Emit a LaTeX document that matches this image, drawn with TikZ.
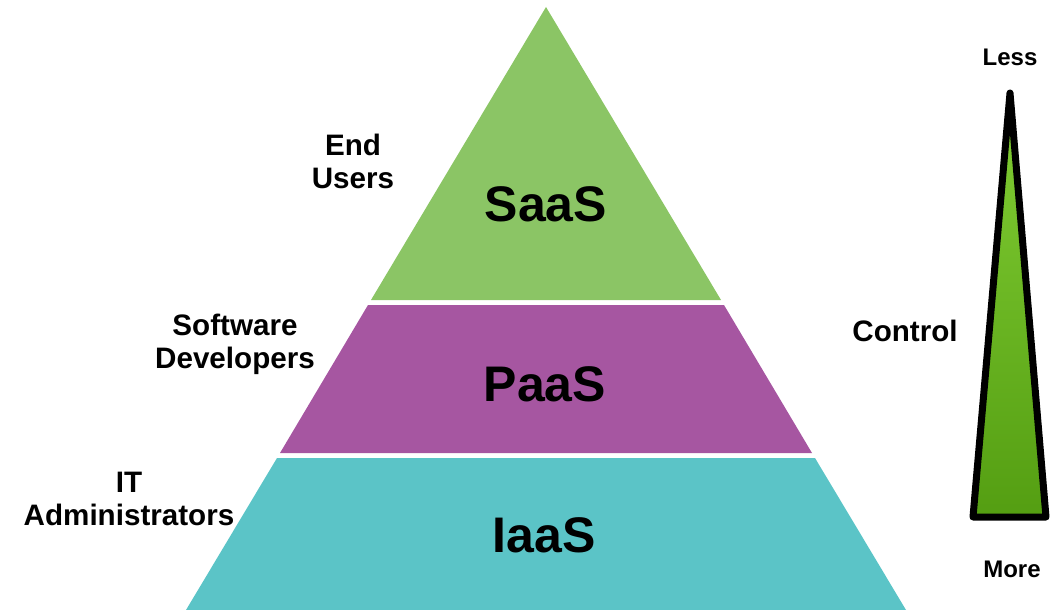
\documentclass[tikz,border=0pt]{standalone}
\usepackage{fontspec}
\setmainfont{Liberation Sans}
\usetikzlibrary{positioning}
\usetikzlibrary{calc}

\definecolor{saasgreen}{RGB}{139,197,101}
\definecolor{paaspurple}{RGB}{166,86,161}
\definecolor{iaasteal}{RGB}{91,196,199}
\definecolor{barlight}{RGB}{130,206,52}
\definecolor{bardark}{RGB}{84,158,18}

\begin{document}
\begin{tikzpicture}[x=1pt, y=-1pt,
    layer/.style={draw=none},
    tier/.style={font=\fontsize{50}{56}\selectfont\bfseries, inner sep=0pt},
    who/.style={font=\fontsize{29.6}{33}\selectfont\bfseries, align=center, inner sep=0pt},
    ends/.style={font=\fontsize{24}{28}\selectfont\bfseries, inner sep=0pt}]
  \useasboundingbox (0,0) rectangle (1053,610);

  % pyramid
  \fill[layer, saasgreen]  (546,7) -- (721,300) -- (371,300) -- cycle;
  \fill[layer, paaspurple] (368,305) -- (724,305) -- (812,453) -- (280,453) -- cycle;
  \fill[layer, iaasteal]   (277,458) -- (815,458) -- (906,610) -- (186,610) -- cycle;

  \node[tier] (saas) at (546,204) {SaaS};
  \node[tier] (paas) at (545,384) {PaaS};
  \node[tier] (iaas) at (544,535) {IaaS};

  % who uses it
  \node[who] (users)  at (353,161) {End\\Users};
  \node[who] (devs)   at (235,344) {Software\\Developers};
  \node[who] (admins) at (129,499) {IT\\Administrators};

  % control bar
  \coordinate (tip) at (1010,93);
  \coordinate (bl)  at (973,517);
  \coordinate (br)  at (1046,517);
  \filldraw[top color=barlight, bottom color=bardark, draw=black,
            line width=7pt, line join=round] (tip) -- (br) -- (bl) -- cycle;

  \node[ends] (less) at (1010,57)  {Less};
  \node[ends] (more) at (1012,569) {More};
  \node[who]  (ctrl) at (905,331)  {Control};
\end{tikzpicture}
\end{document}
